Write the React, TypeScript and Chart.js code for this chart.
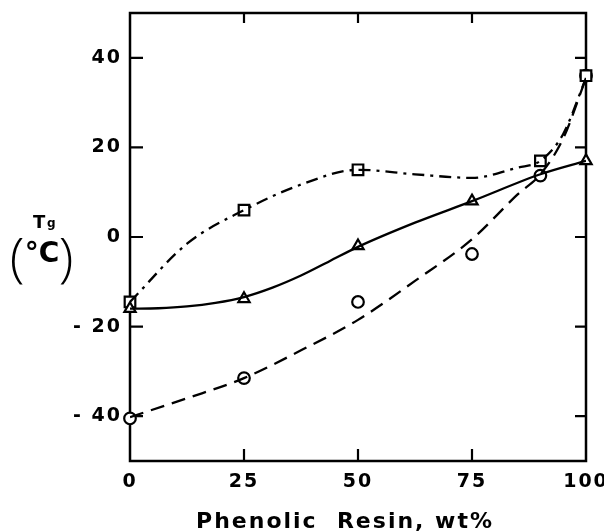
import React, { useEffect, useRef } from 'react';
import { Chart, registerables } from 'chart.js';

Chart.register(...registerables);

// Tick values
const xTicks = [0, 25, 50, 75, 100];
const yTicks = [-40, -20, 0, 20, 40];

// Measured points (markers)
const squareX = [0, 25, 50, 90, 100];
const squareY = [-14.5, 6, 15, 17, 36];
const triangleX = [0, 25, 50, 75, 100];
const triangleY = [-16, -13.8, -2, 8, 17];
const circleX = [0, 25, 50, 75, 90, 100];
const circleY = [-40.5, -31.5, -14.5, -3.8, 13.7, 36];

// Hand-drawn fit curves
const curveX = [0, 12.5, 25, 37.5, 50, 62.5, 75, 85, 90, 95, 100];
const dashDotCurve = [-14.5, -1.5, 6, 11.7, 15, 14, 13.2, 15.5, 17, 23, 35.5];
const dashedCurve = [-40.2, -36, -31.5, -25.3, -18.5, -9.8, -0.5, 9.5, 14, 22, 35.5];
const solidX = [0, 6.25, 12.5, 18.75, 25, 31.25, 37.5, 43.75, 50, 62.5, 75, 90, 100];
const solidCurve = [-16, -15.9, -15.5, -14.7, -13.4, -11.3, -8.6, -5.4, -2.2, 3.2, 8, 14, 17];

const xTitle = 'Phenolic  Resin, wt%';
const yTitleMain = 'T';
const yTitleSub = 'g';
const yUnit = '°C';

const FONT = '"DejaVu Sans", sans-serif';

const pts = (xs: number[], ys: number[]) => xs.map((x, i) => ({ x, y: ys[i] }));

const framePlugin = {
  id: 'frameTicks',
  beforeDraw(chart: any) {
    chart.ctx.letterSpacing = '2px';
  },
  beforeDatasetsDraw(chart: any) {
    const { ctx, chartArea: a, scales } = chart;
    ctx.save();
    ctx.letterSpacing = '0px';
    ctx.strokeStyle = '#000';
    ctx.lineWidth = 2.5;
    ctx.strokeRect(a.left, a.top, a.right - a.left, a.bottom - a.top);
    ctx.lineWidth = 2.2;
    ctx.beginPath();
    const xs = scales.x;
    xs.ticks.forEach((t: any) => {
      if (t.value <= xs.min || t.value >= xs.max) return;
      const px = xs.getPixelForValue(t.value);
      ctx.moveTo(px, a.bottom);
      ctx.lineTo(px, a.bottom - 12);
      ctx.moveTo(px, a.top);
      ctx.lineTo(px, a.top + 10);
    });
    const ys = scales.y;
    ys.ticks.forEach((t: any) => {
      const py = ys.getPixelForValue(t.value);
      ctx.moveTo(a.left, py);
      ctx.lineTo(a.left + 13, py);
      ctx.moveTo(a.right, py);
      ctx.lineTo(a.right - 11, py);
    });
    ctx.stroke();
    ctx.restore();
  },
  afterDraw(chart: any) {
    const { ctx } = chart;
    ctx.save();
    ctx.fillStyle = '#000';
    // x title
    ctx.letterSpacing = '2px';
    ctx.font = `bold 22px ${FONT}`;
    ctx.textAlign = 'center';
    ctx.textBaseline = 'alphabetic';
    ctx.fillText(xTitle, 345, 528);
    // y title
    ctx.letterSpacing = '0px';
    ctx.textAlign = 'left';
    ctx.font = `bold 18px ${FONT}`;
    ctx.fillText(yTitleMain, 33, 228);
    ctx.font = `bold 12px ${FONT}`;
    ctx.fillText(yTitleSub, 47, 227);
    ctx.textAlign = 'center';
    ctx.font = `300 54px "Open Sans", sans-serif`;
    ctx.fillText('(', 17, 276);
    ctx.fillText(')', 66, 276);
    ctx.font = `bold 28px ${FONT}`;
    ctx.fillText(yUnit, 42, 262);
    ctx.restore();
    ctx.letterSpacing = '0px';
  },
};

export default function App() {
  const ref = useRef<HTMLCanvasElement | null>(null);

  useEffect(() => {
    if (!ref.current) return;
    const lineBase = {
      showLine: true,
      pointRadius: 0,
      borderColor: '#000',
      borderWidth: 2.3,
      cubicInterpolationMode: 'monotone' as const,
      fill: false,
    };
    const markerBase = {
      showLine: false,
      borderColor: '#000',
      backgroundColor: '#fff',
      borderWidth: 2.2,
      clip: false as any,
    };
    const chart = new Chart(ref.current, {
      type: 'scatter',
      data: {
        datasets: [
          { ...lineBase, label: 'dash-dot fit', data: pts(curveX, dashDotCurve), borderDash: [12, 6, 3, 6] },
          { ...lineBase, label: 'solid fit', data: pts(solidX, solidCurve) },
          { ...lineBase, label: 'dashed fit', data: pts(curveX, dashedCurve), borderDash: [14, 8] },
          { ...markerBase, label: 'triangles', data: pts(triangleX, triangleY), pointStyle: 'triangle', pointRadius: 6.5 },
          { ...markerBase, label: 'squares', data: pts(squareX, squareY), pointStyle: 'rect', pointRadius: 7.5 },
          { ...markerBase, label: 'circles', data: pts(circleX, circleY), pointStyle: 'circle', pointRadius: 5.8 },
        ] as any,
      },
      options: {
        responsive: false,
        animation: false,
        devicePixelRatio: 1,
        layout: { padding: { top: 13, right: 18, bottom: 0, left: 0 } },
        plugins: { legend: { display: false }, tooltip: { enabled: false } },
        scales: {
          x: {
            type: 'linear',
            min: 0,
            max: 100,
            grid: { display: false, drawTicks: false },
            border: { display: false },
            afterBuildTicks: (s: any) => {
              s.ticks = xTicks.map((v) => ({ value: v }));
            },
            afterFit: (s: any) => {
              s.height = 71;
              s.paddingLeft = 0;
              s.paddingRight = 0;
            },
            ticks: {
              padding: 10,
              color: '#000',
              autoSkip: false,
              maxRotation: 0,
              font: { family: 'DejaVu Sans', size: 19, weight: 'bold' },
              callback: (v: any) => String(v),
            },
          },
          y: {
            type: 'linear',
            min: -50,
            max: 50,
            grid: { display: false, drawTicks: false },
            border: { display: false },
            afterBuildTicks: (s: any) => {
              s.ticks = yTicks.map((v) => ({ value: v }));
            },
            afterFit: (s: any) => {
              s.width = 130;
              s.paddingTop = 0;
              s.paddingBottom = 0;
            },
            ticks: {
              padding: 8,
              color: '#000',
              autoSkip: false,
              font: { family: 'DejaVu Sans', size: 19, weight: 'bold' },
              callback: (v: any) => (v < 0 ? '- ' + Math.abs(v) : String(v)),
            },
          },
        },
      } as any,
      plugins: [framePlugin],
    });
    return () => chart.destroy();
  }, []);

  return (
    <div style={{ position: 'fixed', left: 0, top: 0, width: 604, height: 532, background: '#fff' }}>
      <canvas ref={ref} width={604} height={532} />
    </div>
  );
}
